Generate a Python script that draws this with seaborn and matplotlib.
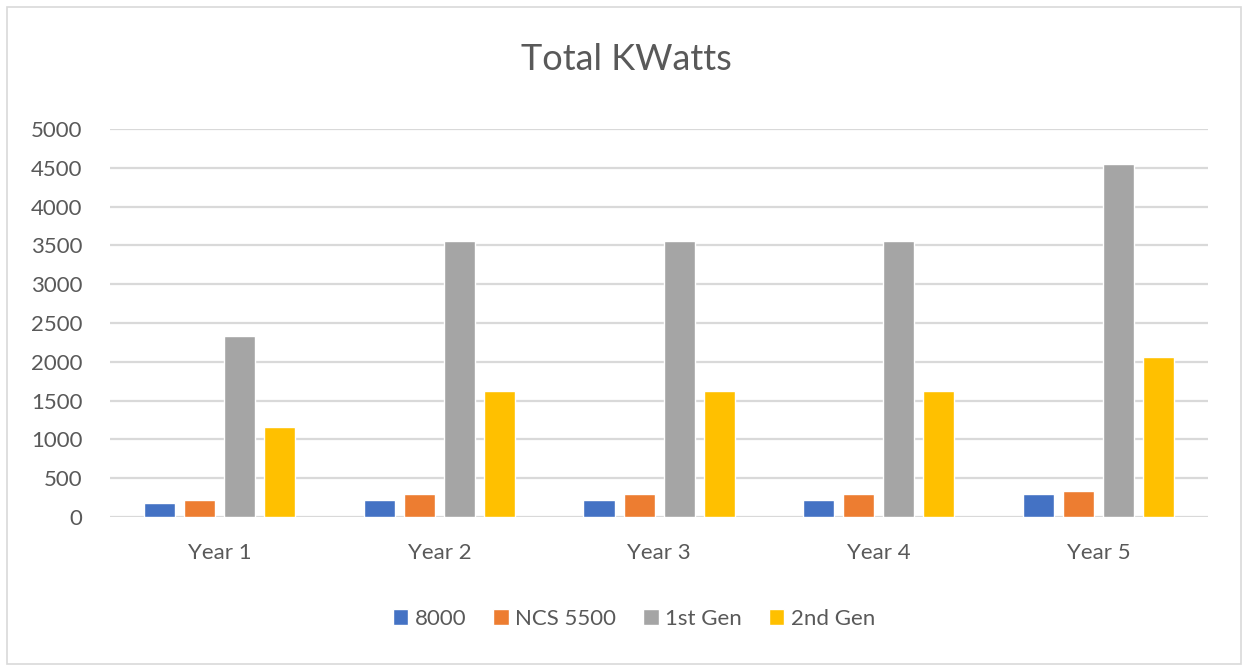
import seaborn as sns
import pandas as pd
import matplotlib.pyplot as plt
from matplotlib.patches import Rectangle

# data
years = ["Year 1", "Year 2", "Year 3", "Year 4", "Year 5"]
series_names = ["8000", "NCS 5500", "1st Gen", "2nd Gen"]
kw_8000 = [180, 220, 220, 220, 295]
kw_ncs5500 = [215, 300, 300, 300, 335]
kw_1st_gen = [2330, 3560, 3560, 3560, 4550]
kw_2nd_gen = [1160, 1630, 1630, 1630, 2060]
colors = ["#4472C4", "#ED7D31", "#A5A5A5", "#FFC000"]

rows = []
for name, vals in zip(series_names, [kw_8000, kw_ncs5500, kw_1st_gen, kw_2nd_gen]):
    for yr, v in zip(years, vals):
        rows.append({"Year": yr, "Series": name, "KWatts": v})
df = pd.DataFrame(rows)

sns.set_style("white")
plt.rcParams["font.family"] = ["Lato", "DejaVu Sans"]
text_col = "#595959"

fig = plt.figure(figsize=(12.43, 6.66), dpi=100)
ax = fig.add_axes([0.0885, 0.2237, 0.8835, 0.5826])

sns.barplot(data=df, x="Year", y="KWatts", hue="Series", palette=colors,
            width=0.73, gap=0.225, ax=ax, saturation=1, legend=True)

ax.set_ylim(0, 5000)
ax.set_yticks(range(0, 5001, 500))
ax.yaxis.grid(True, color="#D9D9D9", linewidth=1.6)
ax.set_axisbelow(True)
for s in ax.spines.values():
    s.set_visible(False)
ax.set_xlabel("")
ax.set_ylabel("")
ax.tick_params(axis="both", length=0, labelsize=16, colors=text_col)
ax.tick_params(axis="y", pad=20)
ax.tick_params(axis="x", pad=19)

fig.text(0.504, 0.91, "Total KWatts", ha="center", va="center",
         fontsize=26, color=text_col)

handles, labels = ax.get_legend_handles_labels()
ax.legend_.remove()
fig.legend(handles, labels, loc="center", bbox_to_anchor=(0.51, 0.0706),
           ncol=4, frameon=False, fontsize=16, labelcolor=text_col,
           handlelength=0.7, handleheight=0.7, handletextpad=0.3,
           columnspacing=1.2)

fig.patches.append(Rectangle((7 / 1243, 2 / 666), 1234 / 1243, 657 / 666,
                             transform=fig.transFigure, fill=False,
                             edgecolor="#D9D9D9", linewidth=1.2))

plt.savefig("out.png", dpi=100)
